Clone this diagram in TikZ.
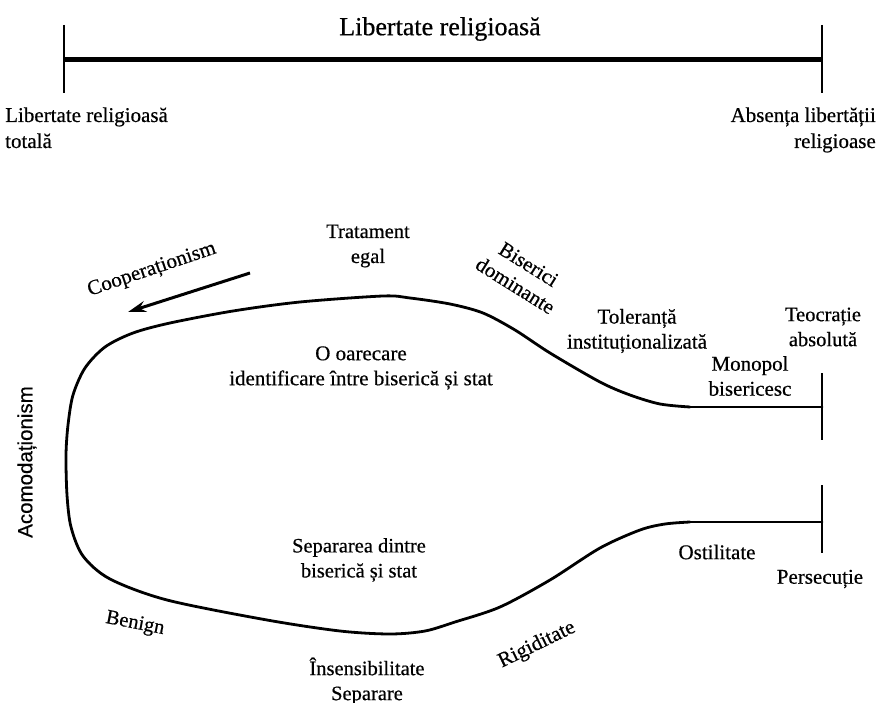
\documentclass[tikz,border=0pt]{standalone}
\usepackage{fontspec}
\setmainfont{Liberation Serif}[FakeBold=0.5]
\newfontfamily\sansf{Liberation Sans}[FakeBold=0.3]
\usetikzlibrary{arrows.meta}
\tikzset{
  lab/.style={font=\fontsize{20.5}{25}\selectfont, align=center, inner sep=0pt},
  toplab/.style={font=\fontsize{21}{25}\selectfont, inner sep=0pt},
  curveline/.style={line width=2.8pt, line join=round, line cap=round},
  tickline/.style={line width=1.4pt},
  scaleline/.style={line width=4.5pt},
}
\begin{document}
\begin{tikzpicture}[x=1pt,y=1pt]
\useasboundingbox (0,0) rectangle (878,-703);
% top scale
\coordinate (LA) at (64,-59.5);
\coordinate (RA) at (822,-59.5);
\coordinate (LT) at (64,-25);
\coordinate (LB) at (64,-93);
\coordinate (RT) at (822,-25);
\coordinate (RB) at (822,-93);
\draw[scaleline] (LA) -- (RA);
\draw[tickline] (LT) -- (LB);
\draw[tickline] (RT) -- (RB);
\node[inner sep=0pt, font=\fontsize{26}{30}\selectfont] (title) at (440,-29) {Libertate religioasă};
\node[toplab, anchor=base west] (tl1) at (5,-122) {Libertate religioasă};
\node[toplab, anchor=base west] (tl2) at (5,-148) {totală};
\node[toplab, anchor=base east] (tr1) at (876,-122) {Absența libertății};
\node[toplab, anchor=base east] (tr2) at (876,-148) {religioase};
% bottle shape
\coordinate (UE) at (822,-407);
\coordinate (UJ) at (690,-407);
\coordinate (LE) at (822,-522);
\coordinate (LJ) at (690,-522);
\draw[curveline] (UE) -- (UJ);
\draw[curveline] (LE) -- (LJ);
\draw[curveline] plot[smooth, tension=0.5] coordinates {
  (690,-407) (660,-404) (630,-395) (600,-382) (550,-353) (515,-330) (483,-313)
  (450,-304) (410,-298) (383,-296) (300,-302) (233,-311) (170,-323) (133,-333)
  (105,-347) (85,-368) (73,-395) (68,-425) (66,-455) (67,-495) (71,-527)
  (83,-556) (110,-579) (167,-600) (267,-620) (340,-631) (390,-634) (425,-631)
  (455,-622) (500,-607) (550,-580) (600,-548) (640,-530) (665,-524) (690,-522)};
\coordinate (UB1) at (822,-373);
\coordinate (UB2) at (822,-440);
\coordinate (LB1) at (822,-485);
\coordinate (LB2) at (822,-553);
\draw[tickline] (UB1) -- (UB2);
\draw[tickline] (LB1) -- (LB2);
% arrow
\coordinate (AS) at (250,-273);
\coordinate (AE) at (128,-312);
\draw[line width=3pt, -{Stealth[length=18pt,width=11pt]}] (AS) -- (AE);
% labels
\node[lab, font=\fontsize{21}{25}\selectfont, rotate=18.7] (coop) at (152,-270) {Cooperaționism};
\node[lab] (trat) at (368,-246) {Tratament\\egal};
\node[lab, font=\fontsize{21}{25}\selectfont] (oare) at (361,-368) {O oarecare\\identificare între biserică și stat};
\node[lab, font=\fontsize{21}{25}\selectfont, rotate=-32] (bis) at (522,-275) {Biserici\\dominante};
\node[lab, font=\fontsize{21}{25}\selectfont] (tol) at (637,-331) {Toleranță\\instituționalizată};
\node[lab] (teo) at (823,-327) {Teocrație\\absolută};
\node[lab, font=\fontsize{21}{25}\selectfont] (mono) at (750,-376) {Monopol\\bisericesc};
\node[lab] (sep) at (359,-560) {Separarea dintre\\biserică și stat};
\node[lab, rotate=-11] (ben) at (135,-624) {Benign};
\node[lab] (ins) at (367,-681) {Însensibilitate\\Separare};
\node[lab, font=\fontsize{21}{25}\selectfont, rotate=26] (rig) at (537,-645) {Rigiditate};
\node[lab, font=\fontsize{21}{25}\selectfont] (ost) at (717,-552) {Ostilitate};
\node[lab, font=\fontsize{21}{25}\selectfont] (pers) at (820,-579) {Persecuție};
\node[inner sep=0pt, font=\sansf\fontsize{20.5}{25}\selectfont, rotate=90] (acom) at (27,-462) {Acomodaționism};
\end{tikzpicture}
\end{document}
